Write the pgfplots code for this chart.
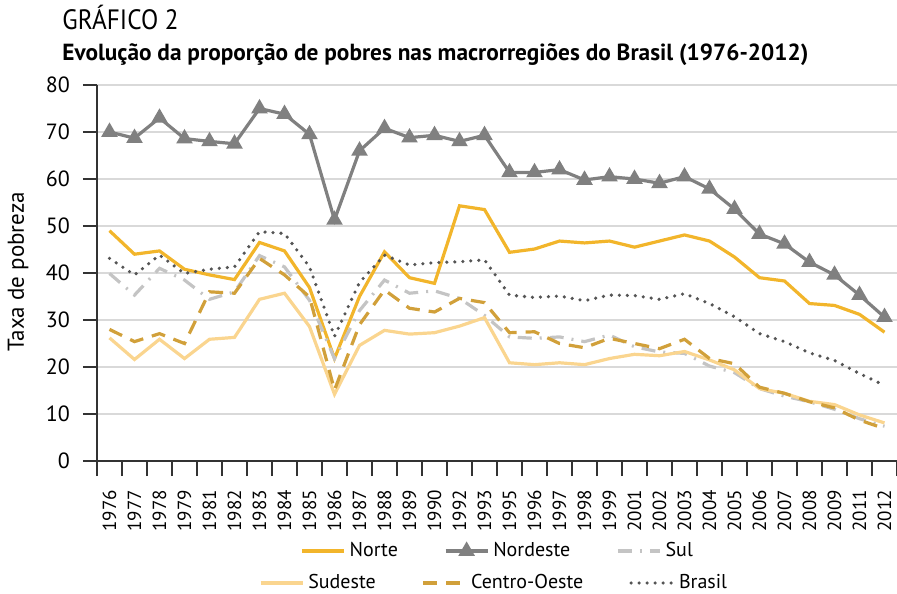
\documentclass[border=0pt]{standalone}
\usepackage{pgfplots}
\usepackage{pgfplotstable}
\pgfplotsset{compat=1.18}
\usepackage{fontspec}
\setmainfont{PT Sans}
\definecolor{cnorte}{HTML}{F2B52B}
\definecolor{cnordeste}{HTML}{808080}
\definecolor{csul}{HTML}{C4C4C4}
\definecolor{csudeste}{HTML}{FAD58F}
\definecolor{cco}{HTML}{D1A03A}
\definecolor{cbrasil}{HTML}{555555}
\definecolor{cgrid}{HTML}{D9D9D9}
\pgfplotstableread{
x Norte Nordeste Sul Sudeste CO Brasil
0 49.0 70.0 39.9 26.2 28.0 43.1
1 44.0 68.7 35.3 21.6 25.4 39.6
2 44.7 73.0 41.0 25.9 27.1 43.8
3 40.8 68.6 38.5 21.8 25.0 39.9
4 39.6 68.0 34.4 25.9 36.0 40.8
5 38.6 67.5 36.0 26.3 35.7 41.3
6 46.5 75.0 43.7 34.4 43.1 48.8
7 44.7 73.8 41.3 35.7 39.6 48.4
8 36.9 69.5 34.2 28.6 34.9 41.3
9 21.8 51.3 21.8 14.2 15.1 26.5
10 35.0 66.0 32.0 24.6 29.0 38.0
11 44.5 70.8 38.5 27.8 36.4 43.8
12 39.0 68.8 35.7 27.0 32.5 41.7
13 37.8 69.3 36.2 27.3 31.7 42.2
14 54.3 68.0 34.6 28.7 34.6 42.4
15 53.5 69.3 31.0 30.5 33.7 42.8
16 44.4 61.4 26.4 20.9 27.3 35.3
17 45.1 61.4 26.1 20.5 27.5 34.8
18 46.8 62.0 26.4 20.9 25.0 35.1
19 46.4 59.8 25.4 20.5 24.1 34.1
20 46.8 60.5 26.8 21.8 26.1 35.3
21 45.5 60.0 24.3 22.7 25.0 35.2
22 46.8 59.1 23.2 22.4 23.9 34.4
23 48.1 60.5 22.9 23.3 25.9 35.6
24 46.8 57.9 20.2 21.5 21.8 33.5
25 43.4 53.6 18.8 19.4 20.7 30.7
26 39.0 48.3 15.4 15.4 15.7 27.1
27 38.3 46.2 13.8 14.4 14.4 25.4
28 33.5 42.3 12.6 12.7 12.6 23.0
29 33.1 39.6 11.0 12.0 11.3 21.4
30 31.2 35.3 9.0 9.8 8.7 18.6
31 27.4 30.6 7.4 8.1 6.9 16.1
}\datatab
\newcommand{\gap}{\rule{21pt}{0pt}}
\pgfplotsset{
  legstyle/.style={
    legend columns=3,
    legend style={draw=none, fill=none,
      font=\fontsize{10}{12}\selectfont},
    legend cell align=left,
    legend image code/.code={\draw[mark repeat=2,mark phase=2,##1] plot coordinates {(0cm,0cm) (0.37cm,0cm) (0.74cm,0cm)};},
  },
  snorte/.style={cnorte, line width=1.6pt, no marks},
  snordeste/.style={cnordeste, line width=1.6pt, mark=triangle*, mark size=3.2pt, mark options={solid}},
  ssul/.style={csul, line width=1.6pt, no marks, dash pattern=on 7pt off 4pt on 1pt off 4pt},
  ssudeste/.style={csudeste, line width=1.6pt, no marks},
  sco/.style={cco, line width=1.6pt, no marks, dash pattern=on 7pt off 4.5pt},
  sbrasil/.style={cbrasil, line width=1.8pt, no marks, line cap=round, dash pattern=on 0pt off 4pt},
}
\begin{document}
\begin{tikzpicture}
\path[use as bounding box] (0,0) rectangle (448.5pt,296.5pt);
\node[anchor=base west,inner sep=0pt] at (31pt,281.5pt) {\fontsize{14}{16}\selectfont\scalebox{0.9}[1]{GRÁFICO 2}};
\node[anchor=base west,inner sep=0pt] at (31pt,266pt) {\resizebox{373pt}{!}{\fontsize{11}{13}\selectfont\bfseries Evolução da proporção de pobres nas macrorregiões do Brasil (1976-2012)}};
\node[rotate=90,inner sep=0pt] at (9pt,160.5pt) {\fontsize{11.5}{13}\selectfont Taxa de pobreza};
\begin{axis}[
  at={(48.5pt,66pt)}, anchor=south west,
  width=400pt, height=188pt, scale only axis,
  xmin=-0.5, xmax=31.5, ymin=0, ymax=80,
  axis x line*=bottom, axis y line*=left,
  axis line style={draw=black!80, line width=0.8pt},
  ytick={0,10,...,80},
  ymajorgrids, grid style={cgrid, line width=0.8pt},
  y tick label style={font=\fontsize{11}{13}\selectfont},
  yticklabel shift=3pt,
  xtick={0,...,31},
  xticklabels={1976,1977,1978,1979,1981,1982,1983,1984,1985,1986,1987,1988,1989,1990,1992,1993,1995,1996,1997,1998,1999,2001,2002,2003,2004,2005,2006,2007,2008,2009,2011,2012},
  x tick label style={rotate=90, anchor=east, font=\fontsize{9.5}{11}\selectfont},
  xticklabel shift=4pt,
  x tick style={draw=none},
  y tick style={draw=black!80, line width=0.8pt},
  major tick length=7pt,
  minor xtick={-0.5,0.5,...,31.5},
  minor x tick style={draw=black!80, line width=0.8pt},
  minor tick length=7.5pt,
  xtick pos=bottom, ytick pos=left,
  tick align=outside,
  /pgf/number format/assume math mode=true,
  clip=false,
  legstyle,
  legend style={at={(0.502,-0.2394)}, anchor=center},
]
\addplot[snorte] table[x=x,y=Norte]{\datatab};
\addlegendentry{Norte\gap}
\addplot[snordeste] table[x=x,y=Nordeste]{\datatab};
\addlegendentry{Nordeste\gap}
\addplot[ssul] table[x=x,y=Sul]{\datatab};
\addlegendentry{Sul}
\addplot[ssudeste, forget plot] table[x=x,y=Sudeste]{\datatab};
\addplot[sco, forget plot] table[x=x,y=CO]{\datatab};
\addplot[sbrasil, forget plot] table[x=x,y=Brasil]{\datatab};
\end{axis}
\begin{axis}[
  at={(48.5pt,66pt)}, anchor=south west,
  width=400pt, height=188pt, scale only axis,
  xmin=-0.5, xmax=31.5, ymin=0, ymax=80,
  hide axis,
  legstyle,
  legend style={at={(0.4975,-0.3245)}, anchor=center},
]
\addlegendimage{ssudeste}
\addlegendentry{Sudeste\gap}
\addlegendimage{sco}
\addlegendentry{Centro-Oeste\gap}
\addlegendimage{sbrasil}
\addlegendentry{Brasil}
\end{axis}
\end{tikzpicture}
\end{document}
